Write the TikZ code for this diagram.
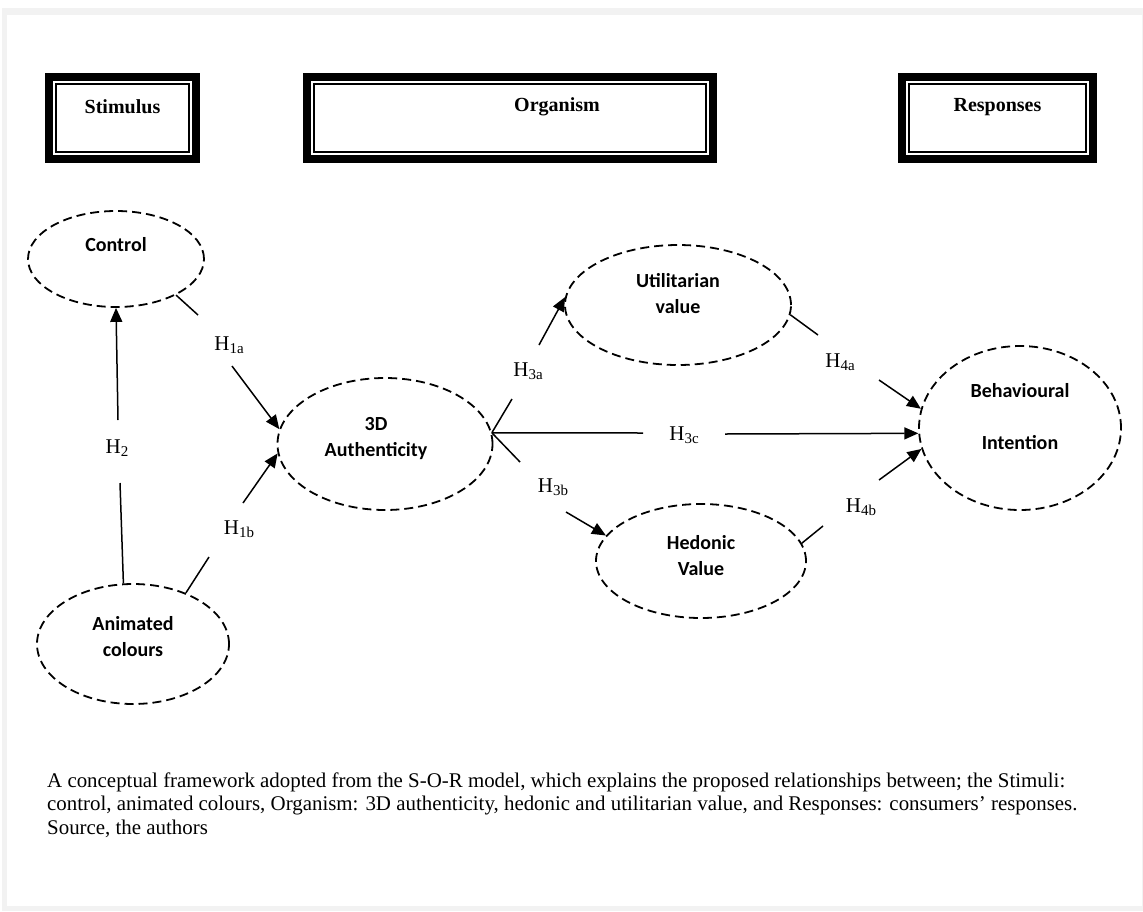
\documentclass[tikz,border=0pt]{standalone}
\usepackage{fontspec}
\setmainfont{Liberation Serif}
\newfontfamily\calib{Carlito}
\usetikzlibrary{arrows.meta,shapes.geometric}
\definecolor{framegray}{RGB}{242,242,242}
\newcommand{\Hsub}[1]{H\raisebox{-3pt}{\fontsize{15}{15}\selectfont #1}}
\begin{document}
\begin{tikzpicture}[x=1pt,y=-1pt,
  hdr/.style={draw, line width=7.7pt, inner sep=0pt, outer sep=0pt, minimum height=82.3pt},
  hdrtext/.style={font=\bfseries\fontsize{20}{24}\selectfont},
  construct/.style={ellipse, draw, dash pattern=on 9pt off 5pt, line width=1.8pt, inner sep=0pt},
  ctext/.style={font=\calib\bfseries\fontsize{20}{26}\selectfont, align=center},
  hlab/.style={font=\fontsize{21}{24}\selectfont, inner sep=0pt},
  seg/.style={line width=1.5pt},
  arr/.style={line width=1.5pt, -{Triangle[length=14pt,width=12pt]}},
  captext/.style={font=\fontsize{20.9}{23.5}\selectfont, align=left, inner sep=0pt, anchor=base west}
]
\useasboundingbox (0,0) rectangle (1143,911);
\fill[framegray] (2,8) rectangle (1143,911);
\fill[white] (7,15) rectangle (1142,906);

% header boxes
\node[hdr, minimum width=147.3pt, label={[hdrtext, yshift=11pt]center:Stimulus}] (stim) at (122.5,118) {};
\node[hdr, minimum width=406.6pt, label={[hdrtext, yshift=11pt, xshift=47pt]center:Organism}] (org) at (510,118) {};
\node[hdr, minimum width=191.3pt, label={[hdrtext, yshift=11pt]center:Responses}] (resp) at (997.5,118) {};
\foreach \n in {stim,org,resp}
  \draw[line width=2.3pt] ([shift={(7.3pt,-7.3pt)}]\n.north west) rectangle ([shift={(-7.3pt,7.3pt)}]\n.south east);

% constructs
\node[construct, minimum width=176pt, minimum height=96pt, label={[ctext, yshift=14pt]center:Control}] (ctrl) at (116,259) {};
\node[construct, minimum width=192pt, minimum height=120pt, label={[ctext, yshift=7.5pt]center:Animated\\colours}] (anim) at (133,644) {};
\node[construct, minimum width=215pt, minimum height=132pt, label={[ctext, yshift=5pt, xshift=-9pt]center:3D\\Authenticity}] (auth) at (385,444) {};
\node[construct, minimum width=226pt, minimum height=120pt, label={[ctext, yshift=11pt]center:Utilitarian\\value}] (util) at (678,305) {};
\node[construct, minimum width=210pt, minimum height=114pt, label={[ctext, yshift=5.5pt]center:Hedonic\\Value}] (hed) at (701,561) {};
\node[construct, minimum width=202pt, minimum height=164pt, label={[ctext, yshift=11pt]center:Behavioural\\[26pt]Intention}] (beh) at (1020,428) {};

% hypothesis labels
\node[hlab] (h2) at (117,448) {\Hsub{2}};
\node[hlab] (h1a) at (229,345) {\Hsub{1a}};
\node[hlab] (h1b) at (239,529) {\Hsub{1b}};
\node[hlab] (h3a) at (528,371) {\Hsub{3a}};
\node[hlab] (h3c) at (684,435) {\Hsub{3c}};
\node[hlab] (h3b) at (553,487) {\Hsub{3b}};
\node[hlab] (h4a) at (840,362) {\Hsub{4a}};
\node[hlab] (h4b) at (861,507) {\Hsub{4b}};

% break points
\coordinate (h2s) at (120,483);   \coordinate (h2e) at (118,420);
\coordinate (h1as) at (198,315);  \coordinate (h1ae) at (232,366);
\coordinate (h1bs) at (209,557);  \coordinate (h1be) at (243,503);
\coordinate (h3as) at (512,399);  \coordinate (h3ae) at (539,345);
\coordinate (h3cs) at (643,433);  \coordinate (h3ce) at (725,434);
\coordinate (h3bs) at (520,462);  \coordinate (h3be) at (566,512);
\coordinate (h4as) at (818,335);  \coordinate (h4ae) at (879,380);
\coordinate (h4bs) at (823,526);  \coordinate (h4be) at (879,480);

% connectors
\draw[seg] (anim.99) -- (h2s);   \draw[arr] (h2e) -- (ctrl.south);
\draw[seg] (ctrl.-31) -- (h1as); \draw[arr] (h1ae) -- (auth.172);
\draw[seg] (anim.44) -- (h1bs);  \draw[arr] (h1be) -- (auth.185);
\draw[seg] (auth.6) -- (h3as);   \draw[arr] (h3ae) -- (util.176);
\draw[seg] (auth.6) -- (h3cs);   \draw[arr] (h3ce) -- (beh.183);
\draw[seg] (auth.6) -- (h3bs);   \draw[arr] (h3be) -- (hed.165);
\draw[seg] (util.-5) -- (h4as);  \draw[arr] (h4ae) -- (beh.169);
\draw[seg] (hed.10) -- (h4bs);   \draw[arr] (h4be) -- (beh.192);

% caption
\node[captext] (cap) at (47,834) {A conceptual framework adopted from the S-O-R model, which explains the proposed relationships between; the Stimuli:\\
control, animated colours, Organism: 3D authenticity, hedonic and utilitarian value, and Responses: consumers’ responses.\\
Source, the authors};
\end{tikzpicture}
\end{document}
